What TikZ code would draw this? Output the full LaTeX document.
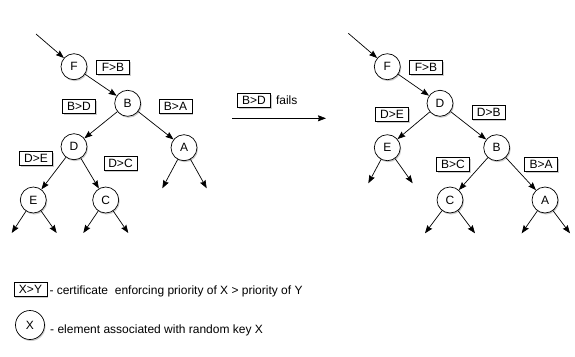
\documentclass[tikz,border=0pt]{standalone}
\usepackage{fontspec}
\setmainfont{Liberation Sans}
\usetikzlibrary{shapes, arrows.meta, positioning, calc, shadows}

\begin{document}
\begin{tikzpicture}[
        x=1pt, y=-1pt,
        key/.style={draw, circle, fill=white, minimum size=26pt, inner sep=0pt, line width=0.7pt, font=\fontsize{12}{14}\selectfont,
            drop shadow={shadow xshift=1pt, shadow yshift=-1.5pt, opacity=0.4}},
        cert/.style={draw, fill=white, minimum width=33pt, minimum height=14pt, inner sep=1pt, line width=0.7pt, font=\fontsize{12}{14}\selectfont,
            drop shadow={shadow xshift=1pt, shadow yshift=-1.5pt, opacity=0.4}},
        arr/.style={-{Stealth[length=8pt, width=6pt, inset=1pt]}, line width=0.7pt},
        note/.style={anchor=west, inner sep=0pt, font=\fontsize{12}{14}\selectfont}
    ]
        \useasboundingbox (0,0) rectangle (575,356);

        % before
        \node[key] (F1) at (74,66.7) {F};
        \node[key] (B1) at (127.7,103.3) {B};
        \node[key] (D1) at (74,146.7) {D};
        \node[key] (A1) at (184,147.7) {A};
        \node[key] (E1) at (33.3,200) {E};
        \node[key] (C1) at (105.7,200) {C};
        \coordinate (in1) at (36,34);
        \coordinate (E1l) at (11.7,233);
        \coordinate (E1r) at (56.7,233);
        \coordinate (C1l) at (83.3,233);
        \coordinate (C1r) at (128.3,233);
        \coordinate (A1l) at (162.3,188.3);
        \coordinate (A1r) at (206.7,188.3);

        \node[cert] (fb1) at (113,67) {F>B};
        \node[cert] (bd1) at (79,106) {B>D};
        \node[cert] (ba1) at (175.5,106) {B>A};
        \node[cert] (de1) at (36,158) {D>E};
        \node[cert] (dc1) at (120.5,163.5) {D>C};

        \draw[arr] (in1) -- (F1);
        \draw[arr] (F1) -- (B1);
        \draw[arr] (B1) -- (D1);
        \draw[arr] (B1) -- (A1);
        \draw[arr] (D1) -- (E1);
        \draw[arr] (D1) -- (C1);
        \draw[arr] (E1) -- (E1l);
        \draw[arr] (E1) -- (E1r);
        \draw[arr] (C1) -- (C1l);
        \draw[arr] (C1) -- (C1r);
        \draw[arr] (A1) -- (A1l);
        \draw[arr] (A1) -- (A1r);

        % rotation
        \node[cert] (bd) at (254,100) {B>D};
        \node[right=5pt of bd, inner sep=0pt, font=\fontsize{12}{14}\selectfont] (fails) {fails};
        \coordinate (rs) at (232.3,118.3);
        \coordinate (re) at (326,118.3);
        \draw[arr] (rs) -- (re);

        % after
        \node[key] (F2) at (387.3,66.7) {F};
        \node[key] (D2) at (440,103.3) {D};
        \node[key] (E2) at (387.3,147.7) {E};
        \node[key] (B2) at (496.7,147.7) {B};
        \node[key] (C2) at (450,200) {C};
        \node[key] (A2) at (545,200) {A};
        \coordinate (in2) at (348.3,33.3);
        \coordinate (E2l) at (368.3,183.3);
        \coordinate (E2r) at (412.7,183.3);
        \coordinate (C2l) at (425,233.3);
        \coordinate (C2r) at (475,233.3);
        \coordinate (A2l) at (521.7,233.3);
        \coordinate (A2r) at (570,233.3);

        \node[cert] (fb2) at (426,67) {F>B};
        \node[cert] (de2) at (392,114) {D>E};
        \node[cert] (db2) at (488.7,112) {D>B};
        \node[cert] (bc2) at (453,164) {B>C};
        \node[cert] (ba2) at (541,164) {B>A};

        \draw[arr] (in2) -- (F2);
        \draw[arr] (F2) -- (D2);
        \draw[arr] (D2) -- (E2);
        \draw[arr] (D2) -- (B2);
        \draw[arr] (B2) -- (C2);
        \draw[arr] (B2) -- (A2);
        \draw[arr] (E2) -- (E2l);
        \draw[arr] (E2) -- (E2r);
        \draw[arr] (C2) -- (C2l);
        \draw[arr] (C2) -- (C2r);
        \draw[arr] (A2) -- (A2l);
        \draw[arr] (A2) -- (A2r);

        % legend
        \node[cert] (xy) at (30.5,289.3) {X>Y};
        \node[note] (certnote) at (49.3,291) {- certificate\ \ enforcing priority of X > priority of Y};
        \node[key, minimum size=29pt] (x) at (30,325) {X};
        \node[note] (keynote) at (50,330.7) {- element associated with random key X};
    \end{tikzpicture}
\end{document}
